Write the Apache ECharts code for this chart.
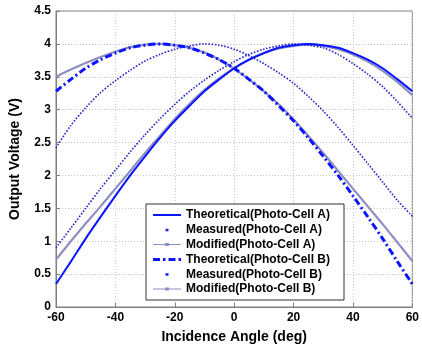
<!DOCTYPE html>
<html>
<head>
<meta charset="utf-8">
<script src="https://cdn.jsdelivr.net/npm/echarts@6/dist/echarts.min.js"></script>
<style>
html,body{margin:0;padding:0;background:#fff;}
#chart{width:422px;height:349px;}
</style>
</head>
<body>
<div id="chart"></div>
<script>
var angles = [-60,-55,-50,-45,-40,-35,-30,-25,-20,-15,-10,-5,0,5,10,15,20,25,30,35,40,45,50,55,60];
var theoA = [0.35,0.69,1.04,1.37,1.69,2.00,2.29,2.57,2.83,3.06,3.28,3.46,3.63,3.76,3.86,3.94,3.98,4.00,3.98,3.94,3.86,3.76,3.63,3.46,3.28];
var measA = [0.90,1.20,1.50,1.80,2.08,2.36,2.62,2.86,3.08,3.28,3.45,3.60,3.73,3.84,3.92,3.97,4.00,3.98,3.94,3.84,3.70,3.54,3.35,3.12,2.87];
var modA  = [0.72,1.00,1.27,1.53,1.80,2.07,2.34,2.60,2.86,3.09,3.30,3.48,3.63,3.76,3.86,3.93,3.97,3.99,3.97,3.92,3.84,3.73,3.59,3.42,3.22];
var theoB = [3.28,3.46,3.63,3.76,3.86,3.94,3.98,4.00,3.98,3.94,3.86,3.76,3.63,3.46,3.28,3.06,2.83,2.57,2.29,2.00,1.69,1.37,1.04,0.69,0.35];
var measB = [2.42,2.76,3.03,3.26,3.44,3.60,3.74,3.84,3.92,3.97,4.00,3.98,3.92,3.82,3.70,3.56,3.40,3.20,2.98,2.73,2.46,2.18,1.90,1.62,1.38];
var modB  = [3.50,3.61,3.71,3.80,3.88,3.95,3.99,4.00,3.98,3.94,3.87,3.76,3.62,3.46,3.28,3.08,2.85,2.60,2.34,2.07,1.80,1.53,1.26,0.98,0.70];
var names = ['Theoretical(Photo-Cell A)','Measured(Photo-Cell A)','Modified(Photo-Cell A)','Theoretical(Photo-Cell B)','Measured(Photo-Cell B)','Modified(Photo-Cell B)'];

function pairs(vals){ return angles.map(function(a,i){ return [a, vals[i]]; }); }

var FONT = '"Liberation Sans", Arial, sans-serif';
var blue = '#0a14ff';
var dotBlue = '#2626c8';
var gray = '#8e8ec4';
var dotIcon = 'path://M0,0L0,0M28,14L28,14M12.5,6h3v2.5h-3z';
var solidIcon = 'path://M0,0L0,0M28,14L28,14M0,6h28v2h-28z';
var thinIcon = 'path://M0,0L0,0M28,14L28,14M0,6.5h28v1h-28zM12,5.5h4v3h-4z';
var dashDotIcon = 'path://M0,0L0,0M28,14L28,14M0,5.5h7v3h-7zM10,5.5h2.5v3h-2.5zM15.5,5.5h7v3h-7zM25.5,5.5h2.5v3h-2.5z';

var chart = echarts.init(document.getElementById('chart'), null, {renderer:'canvas'});
chart.setOption({
  animation:false,
  backgroundColor:'#fff',
  grid:{left:52,right:4,top:11,bottom:37,show:true,borderColor:'#7f7f7f',borderWidth:1},
  xAxis:{type:'value',min:-60,max:60,interval:20,
    name:'Incidence Angle (deg)',nameLocation:'middle',nameGap:23,
    nameTextStyle:{fontFamily:FONT,fontWeight:'bold',fontSize:14,color:'#000'},
    axisLine:{onZero:false,lineStyle:{color:'#7f7f7f'}},
    axisTick:{inside:true,length:4,lineStyle:{color:'#7f7f7f'}},
    axisLabel:{fontFamily:FONT,fontWeight:'bold',fontSize:12,color:'#000',margin:5},
    splitLine:{show:true,lineStyle:{color:'#c4c4c4',type:[1,2]}}},
  yAxis:{type:'value',min:0,max:4.5,interval:0.5,
    name:'Output Voltage (V)',nameLocation:'middle',nameGap:34,
    nameTextStyle:{fontFamily:FONT,fontWeight:'bold',fontSize:14,color:'#000'},
    axisLine:{show:true,onZero:false,lineStyle:{color:'#7f7f7f'}},
    axisTick:{show:true,inside:true,length:4,lineStyle:{color:'#7f7f7f'}},
    axisLabel:{fontFamily:FONT,fontWeight:'bold',fontSize:12,color:'#000',margin:5},
    splitLine:{show:true,lineStyle:{color:'#c4c4c4',type:[1,2]}}},
  legend:{orient:'vertical',left:146,top:204,
    backgroundColor:'#fff',borderColor:'#333',borderWidth:1,padding:[4,14,4,7],
    itemWidth:28,itemHeight:14,itemGap:0.8,
    textStyle:{fontFamily:FONT,fontWeight:'bold',fontSize:12,color:'#000',lineHeight:14},
    data:[
      {name:names[0],icon:solidIcon,itemStyle:{color:blue}},
      {name:names[1],icon:dotIcon,itemStyle:{color:dotBlue}},
      {name:names[2],icon:thinIcon,itemStyle:{color:gray}},
      {name:names[3],icon:dashDotIcon,itemStyle:{color:blue}},
      {name:names[4],icon:dotIcon,itemStyle:{color:blue}},
      {name:names[5],icon:thinIcon,itemStyle:{color:gray}}
    ]},
  series:[
    {name:names[2],type:'line',data:pairs(modA),smooth:0.3,symbol:'none',z:2,
      lineStyle:{color:gray,width:2.2},itemStyle:{color:gray}},
    {name:names[5],type:'line',data:pairs(modB),smooth:0.3,symbol:'none',z:2,
      lineStyle:{color:gray,width:2.2},itemStyle:{color:gray}},
    {name:names[1],type:'line',data:pairs(measA),smooth:0.3,symbol:'none',z:3,
      lineStyle:{color:dotBlue,width:1.6,type:[1.6,1.6]},itemStyle:{color:dotBlue}},
    {name:names[4],type:'line',data:pairs(measB),smooth:0.3,symbol:'none',z:3,
      lineStyle:{color:dotBlue,width:1.6,type:[1.6,1.6]},itemStyle:{color:dotBlue}},
    {name:names[0],type:'line',data:pairs(theoA),smooth:0.3,symbol:'none',z:4,
      lineStyle:{color:blue,width:2},itemStyle:{color:blue}},
    {name:names[3],type:'line',data:pairs(theoB),smooth:0.3,symbol:'none',z:4,
      lineStyle:{color:blue,width:3,type:[7,3,2,3]},itemStyle:{color:blue}}
  ]
});
</script>
</body>
</html>
